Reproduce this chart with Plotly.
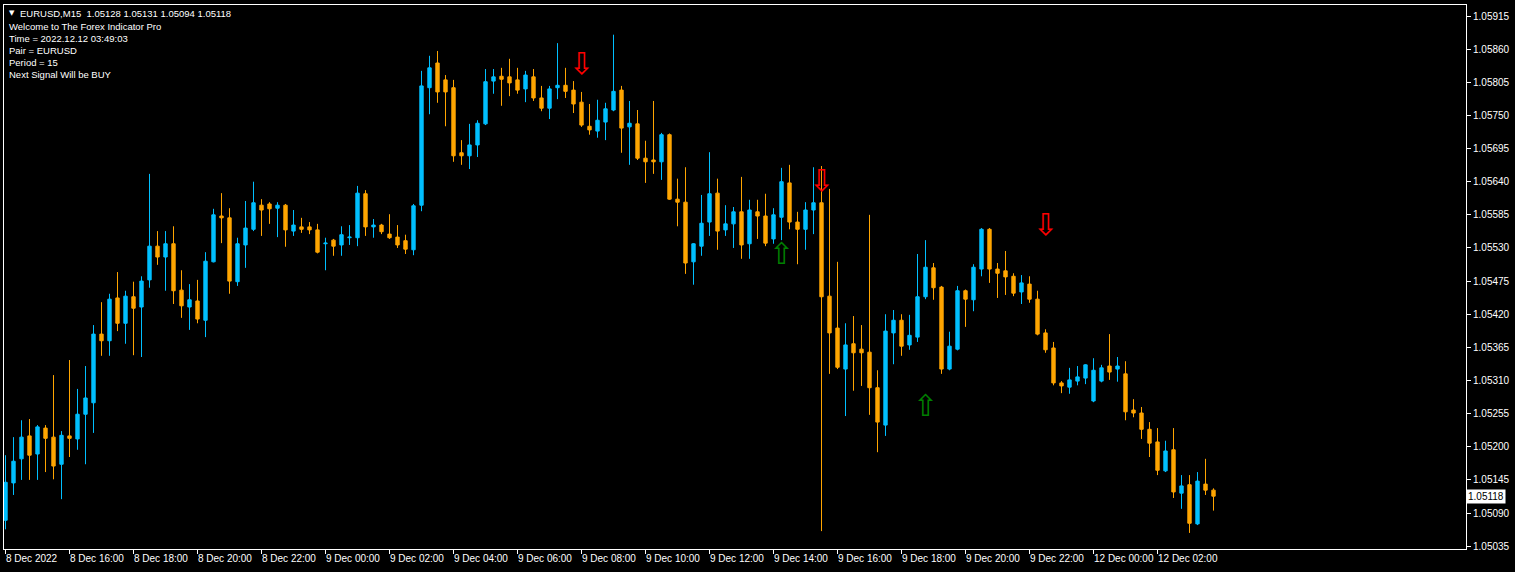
import plotly.graph_objects as go

# ---------------- data (EURUSD M15) ----------------
opens = [1.05078,1.05140,1.05180,1.05218,1.05188,1.05231,1.05216,1.05171,1.05218,1.05213,
         1.05254,1.05273,1.05387,1.05376,1.05447,1.05405,1.05449,1.05432,1.05477,1.05533,
         1.05515,1.05537,1.05460,1.05432,1.05442,1.05410,1.05507,1.05583,1.05580,1.05474,
         1.05535,1.05561,1.05601,1.05603,1.05596,1.05601,1.05558,1.05565,1.05565,1.05560,
         1.05537,1.05543,1.05535,1.05547,1.05547,1.05620,1.05565,1.05568,1.05553,1.05548,
         1.05542,1.05527,1.05601,1.05796,1.05837,1.05809,1.05796,1.05688,1.05683,1.05701,
         1.05736,1.05807,1.05815,1.05814,1.05809,1.05794,1.05814,1.05779,1.05762,1.05796,
         1.05800,1.05792,1.05772,1.05732,1.05724,1.05739,1.05759,1.05792,1.05731,1.05736,
         1.05679,1.05676,1.05673,1.05718,1.05611,1.05606,1.05507,1.05533,1.05573,1.05621,
         1.05560,1.05570,1.05590,1.05537,1.05590,1.05583,1.05545,1.05581,1.05638,1.05573,
         1.05561,1.05593,1.05605,1.05450,1.05397,1.05329,1.05371,1.05362,1.05357,1.05298,
         1.05236,1.05389,1.05410,1.05369,1.05382,1.05449,1.05497,1.05465,1.05329,1.05362,
         1.05459,1.05444,1.05495,1.05561,1.05495,1.05492,1.05483,1.05457,1.05470,1.05445,
         1.05389,1.05364,1.05306,1.05299,1.05309,1.05314,1.05276,1.05309,1.05334,1.05329,
         1.05321,1.05261,1.05256,1.05229,1.05208,1.05160,1.05195,1.05123,1.05137,1.05072,
         1.05138,1.05128]
highs = [1.05186,1.05216,1.05244,1.05246,1.05236,1.05236,1.05319,1.05226,1.05344,1.05296,
         1.05334,1.05402,1.05440,1.05454,1.05490,1.05459,1.05474,1.05483,1.05653,1.05558,
         1.05558,1.05566,1.05493,1.05470,1.05477,1.05523,1.05595,1.05621,1.05596,1.05547,
         1.05608,1.05640,1.05611,1.05606,1.05606,1.05603,1.05593,1.05580,1.05573,1.05570,
         1.05547,1.05545,1.05566,1.05568,1.05633,1.05626,1.05578,1.05570,1.05586,1.05568,
         1.05552,1.05603,1.05824,1.05849,1.05857,1.05817,1.05809,1.05709,1.05736,1.05742,
         1.05827,1.05827,1.05829,1.05844,1.05829,1.05824,1.05827,1.05799,1.05799,1.05870,
         1.05829,1.05807,1.05789,1.05769,1.05776,1.05771,1.05884,1.05799,1.05774,1.05759,
         1.05708,1.05774,1.05721,1.05720,1.05645,1.05664,1.05538,1.05618,1.05689,1.05645,
         1.05601,1.05598,1.05648,1.05610,1.05610,1.05620,1.05596,1.05663,1.05668,1.05590,
         1.05606,1.05664,1.05666,1.05628,1.05507,1.05405,1.05417,1.05402,1.05585,1.05327,
         1.05420,1.05427,1.05420,1.05419,1.05520,1.05543,1.05505,1.05467,1.05391,1.05467,
         1.05461,1.05503,1.05563,1.05563,1.05505,1.05525,1.05488,1.05485,1.05483,1.05459,
         1.05395,1.05374,1.05309,1.05331,1.05334,1.05337,1.05347,1.05336,1.05387,1.05349,
         1.05342,1.05279,1.05266,1.05241,1.05231,1.05210,1.05231,1.05153,1.05153,1.05158,
         1.05180,1.05131]
lows = [1.05063,1.05120,1.05145,1.05145,1.05145,1.05158,1.05146,1.05113,1.05183,1.05195,
        1.05171,1.05223,1.05351,1.05351,1.05392,1.05371,1.05352,1.05349,1.05464,1.05502,
        1.05459,1.05437,1.05414,1.05394,1.05405,1.05382,1.05506,1.05538,1.05454,1.05467,
        1.05497,1.05558,1.05550,1.05570,1.05548,1.05532,1.05550,1.05555,1.05553,1.05521,
        1.05493,1.05517,1.05517,1.05535,1.05533,1.05550,1.05547,1.05553,1.05545,1.05530,
        1.05520,1.05518,1.05591,1.05752,1.05771,1.05732,1.05673,1.05668,1.05661,1.05681,
        1.05734,1.05786,1.05766,1.05782,1.05786,1.05772,1.05774,1.05757,1.05744,1.05777,
        1.05779,1.05754,1.05731,1.05718,1.05713,1.05709,1.05757,1.05688,1.05668,1.05676,
        1.05638,1.05653,1.05643,1.05610,1.05566,1.05487,1.05469,1.05517,1.05550,1.05527,
        1.05550,1.05530,1.05512,1.05512,1.05545,1.05533,1.05537,1.05543,1.05561,1.05503,
        1.05527,1.05553,1.05060,1.05321,1.05329,1.05251,1.05293,1.05301,1.05253,1.05191,
        1.05218,1.05337,1.05351,1.05361,1.05374,1.05445,1.05444,1.05321,1.05327,1.05360,
        1.05399,1.05425,1.05483,1.05472,1.05447,1.05452,1.05450,1.05437,1.05439,1.05385,
        1.05356,1.05302,1.05289,1.05288,1.05302,1.05304,1.05274,1.05307,1.05311,1.05308,
        1.05244,1.05249,1.05213,1.05183,1.05153,1.05158,1.05115,1.05097,1.05057,1.05070,
        1.05120,1.05094]
closes = [1.05141,1.05176,1.05216,1.05186,1.05233,1.05214,1.05168,1.05219,1.05214,1.05254,
          1.05281,1.05387,1.05376,1.05445,1.05405,1.05450,1.05430,1.05475,1.05533,1.05515,
          1.05537,1.05459,1.05434,1.05444,1.05412,1.05508,1.05585,1.05580,1.05475,1.05537,
          1.05563,1.05605,1.05593,1.05595,1.05601,1.05560,1.05568,1.05561,1.05560,1.05523,
          1.05538,1.05533,1.05552,1.05548,1.05621,1.05565,1.05568,1.05557,1.05547,1.05535,
          1.05528,1.05600,1.05799,1.05829,1.05789,1.05789,1.05683,1.05683,1.05701,1.05737,
          1.05806,1.05814,1.05810,1.05804,1.05792,1.05817,1.05779,1.05762,1.05794,1.05800,
          1.05790,1.05769,1.05734,1.05726,1.05742,1.05761,1.05790,1.05729,1.05737,1.05679,
          1.05673,1.05673,1.05718,1.05611,1.05606,1.05505,1.05537,1.05571,1.05620,1.05558,
          1.05570,1.05590,1.05535,1.05593,1.05583,1.05538,1.05585,1.05640,1.05573,1.05561,
          1.05593,1.05605,1.05449,1.05389,1.05332,1.05369,1.05356,1.05356,1.05298,1.05241,
          1.05392,1.05410,1.05367,1.05385,1.05449,1.05498,1.05464,1.05329,1.05367,1.05459,
          1.05445,1.05498,1.05561,1.05495,1.05488,1.05482,1.05455,1.05472,1.05445,1.05387,
          1.05361,1.05306,1.05301,1.05311,1.05316,1.05336,1.05327,1.05331,1.05324,1.05334,
          1.05258,1.05256,1.05229,1.05206,1.05161,1.05193,1.05125,1.05135,1.05073,1.05143,
          1.05128,1.05118]
bar_index = list(range(len(closes)))

# time labels: bar index of each label and its text
time_label_bars = [0, 8, 16, 24, 32, 40, 48, 56, 64, 72, 80, 88, 96, 104, 112, 120, 128, 136, 144]
time_labels = ["8 Dec 2022", "8 Dec 16:00", "8 Dec 18:00", "8 Dec 20:00", "8 Dec 22:00",
               "9 Dec 00:00", "9 Dec 02:00", "9 Dec 04:00", "9 Dec 06:00", "9 Dec 08:00",
               "9 Dec 10:00", "9 Dec 12:00", "9 Dec 14:00", "9 Dec 16:00", "9 Dec 18:00",
               "9 Dec 20:00", "9 Dec 22:00", "12 Dec 00:00", "12 Dec 02:00"]

price_ticks = [1.05915, 1.05860, 1.05805, 1.05750, 1.05695, 1.05640, 1.05585, 1.05530,
               1.05475, 1.05420, 1.05365, 1.05310, 1.05255, 1.05200, 1.05145, 1.05090, 1.05035]

# signal arrows
sell_bars = [72, 102, 130]
sell_prices = [1.05831, 1.05637, 1.05564]
buy_bars = [97, 115]
buy_prices = [1.05516, 1.05263]

info_lines = ["Welcome to The Forex Indicator Pro", "Time = 2022.12.12 03:49:03",
              "Pair = EURUSD", "Period = 15", "Next Signal Will be BUY"]
header = "EURUSD,M15\u00a0\u00a01.05128 1.05131 1.05094 1.05118"
last_price = 1.05118

# ---------------- figure ----------------
FONT = "Liberation Sans"
fig = go.Figure()
fig.add_trace(go.Candlestick(
    x=bar_index, open=opens, high=highs, low=lows, close=closes,
    increasing=dict(line=dict(color="#00BFFF", width=1), fillcolor="#00BFFF"),
    decreasing=dict(line=dict(color="#FFA500", width=1), fillcolor="#FFA500"),
    whiskerwidth=0, hoverinfo="skip", showlegend=False))

fig.add_trace(go.Scatter(x=sell_bars, y=sell_prices, mode="text", text=["\u21e9"] * len(sell_bars),
                         textfont=dict(family="DejaVu Sans", size=30, color="#FF0000"),
                         hoverinfo="skip", showlegend=False))
fig.add_trace(go.Scatter(x=buy_bars, y=buy_prices, mode="text", text=["\u21e7"] * len(buy_bars),
                         textfont=dict(family="DejaVu Sans", size=30, color="#008000"),
                         hoverinfo="skip", showlegend=False))

annotations = []
annotations.append(dict(xref="paper", yref="paper", x=0, y=1, xanchor="left", yanchor="top",
                        xshift=3, yshift=-2, showarrow=False, text="\u25bc",
                        font=dict(family="DejaVu Sans", size=7, color="white")))
annotations.append(dict(xref="paper", yref="paper", x=0, y=1, xanchor="left", yanchor="top",
                        xshift=14, yshift=-1, showarrow=False, text=header,
                        font=dict(family=FONT, size=9.5, color="white")))
for k, line in enumerate(info_lines):
    annotations.append(dict(xref="paper", yref="paper", x=0, y=1, xanchor="left", yanchor="top",
                            xshift=3, yshift=-14 - 12 * k, showarrow=False, text=line,
                            font=dict(family=FONT, size=9.5, color="white")))
for b, t in zip(time_label_bars, time_labels):
    annotations.append(dict(xref="x", yref="paper", x=b, y=0, xanchor="left", yanchor="top",
                            xshift=-2, yshift=-2, showarrow=False, text=t,
                            font=dict(family=FONT, size=10, color="white")))
annotations.append(dict(xref="paper", yref="y", x=1, y=last_price, xanchor="left", yanchor="middle",
                        xshift=0, showarrow=False, text=f"{last_price:.5f}", bgcolor="white",
                        borderpad=1, font=dict(family=FONT, size=10, color="black")))

fig.update_layout(
    width=1515, height=572,
    margin=dict(l=4, r=49, t=5, b=23),
    paper_bgcolor="black", plot_bgcolor="black",
    boxgap=0.4,
    annotations=annotations,
    xaxis=dict(range=[-0.1875, 182.5625], rangeslider=dict(visible=False), showgrid=False, zeroline=False,
               showline=True, mirror=True, linecolor="white", linewidth=1,
               tickmode="array", tickvals=time_label_bars, showticklabels=False,
               ticks="outside", ticklen=4, tickcolor="white"),
    yaxis=dict(range=[1.050303, 1.059333], side="right", showgrid=False, zeroline=False,
               showline=True, mirror=True, linecolor="white", linewidth=1,
               tickmode="array", tickvals=price_ticks, tickformat=".5f",
               ticks="outside", ticklen=4, tickcolor="white",
               tickfont=dict(family=FONT, size=10, color="white")),
)

fig.write_html("out.html", config={"displayModeBar": False},
               post_script="document.body.style.margin='0';document.body.style.background='black';")
